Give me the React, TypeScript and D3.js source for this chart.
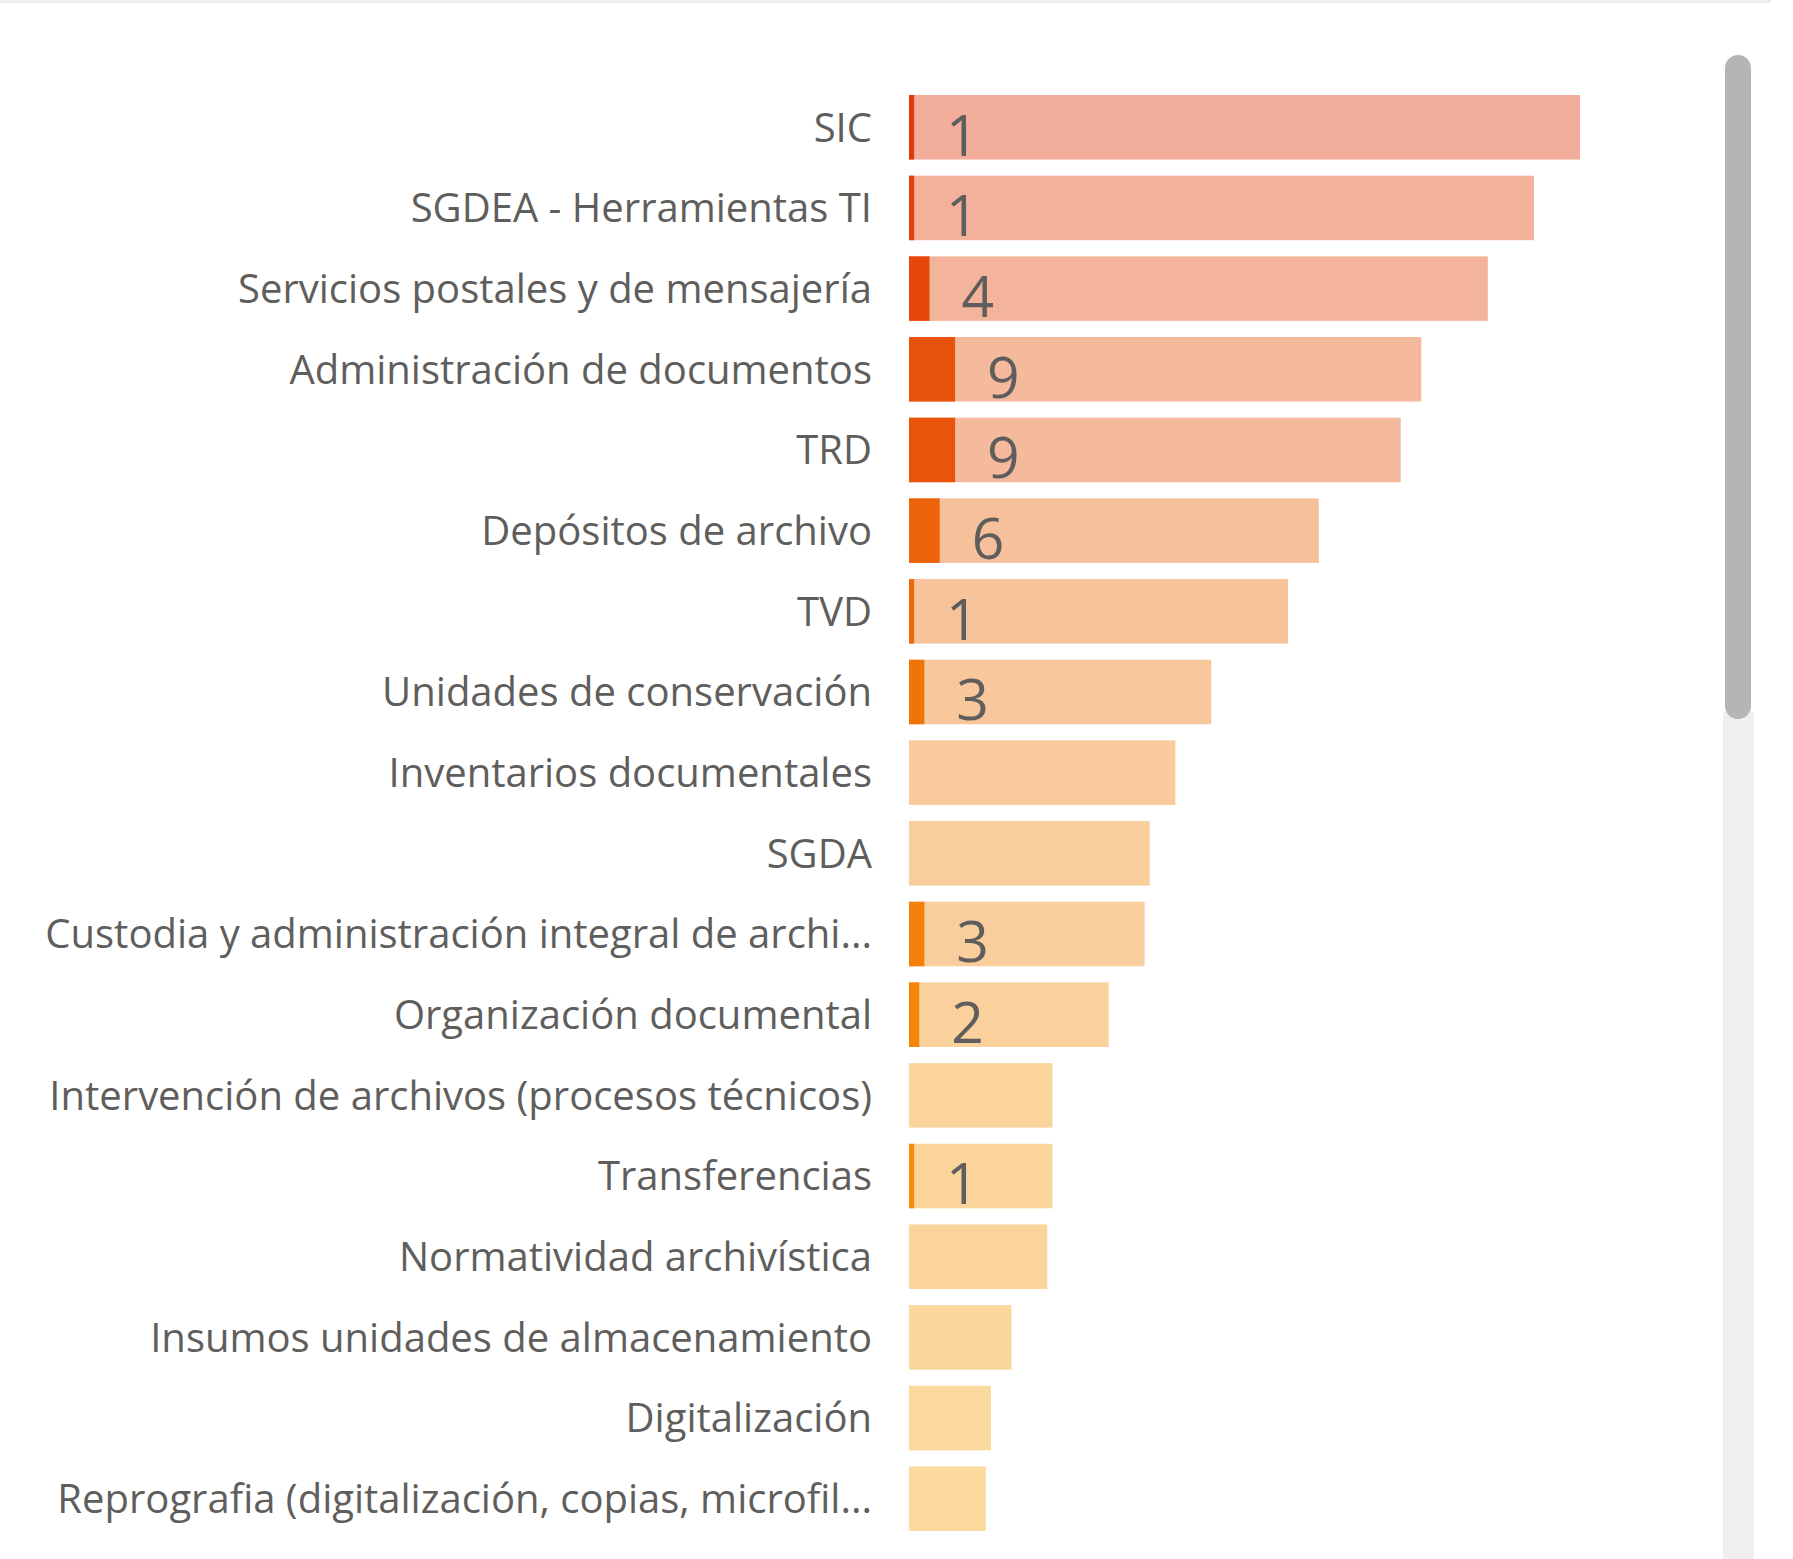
import React from "react";
import * as d3 from "d3";

const categories = [
  "SIC",
  "SGDEA - Herramientas TI",
  "Servicios postales y de mensajería",
  "Administración de documentos",
  "TRD",
  "Depósitos de archivo",
  "TVD",
  "Unidades de conservación",
  "Inventarios documentales",
  "SGDA",
  "Custodia y administración integral de archi...",
  "Organización documental",
  "Intervención de archivos (procesos técnicos)",
  "Transferencias",
  "Normatividad archivística",
  "Insumos unidades de almacenamiento",
  "Digitalización",
  "Reprografia (digitalización, copias, microfil...",
];

const totals = [131, 122, 113, 100, 96, 80, 74, 59, 52, 47, 46, 39, 28, 28, 27, 20, 16, 15];
const highlighted = [1, 1, 4, 9, 9, 6, 1, 3, 0, 0, 3, 2, 0, 1, 0, 0, 0, 0];

const W = 1793;
const H = 1559;
const FONT = "'Segoe UI', 'Open Sans', 'Noto Sans', sans-serif";

export default function App() {
  const x = d3.scaleLinear().domain([0, d3.max(totals) as number]).range([909, 1580]);
  const y = d3.scaleBand<string>().domain(categories).range([95, 1531]).paddingInner(0.2).paddingOuter(0);
  const bw = y.bandwidth();
  const ext = d3.extent(totals) as [number, number];
  const bgColor = d3.scaleLinear<string>().domain(ext).range(["#FCD99C", "#F2AD9B"]).interpolate(d3.interpolateRgb);
  const fgColor = d3.scaleLinear<string>().domain(ext).range(["#FA980A", "#E2390C"]).interpolate(d3.interpolateRgb);
  const labelSize = 40;
  const numSize = 57;

  return (
    <svg width={W} height={H} style={{ position: "absolute", left: 0, top: 0, background: "#fff" }}>
      <rect x={0} y={0} width={1771} height={3} fill="#EDEDED" />
      {categories.map((c, i) => {
        const yy = y(c) as number;
        const cy = yy + bw / 2;
        return (
          <g key={c}>
            <text
              x={872}
              y={cy + labelSize * 0.714 / 2}
              textAnchor="end"
              fontFamily={FONT}
              fontSize={labelSize}
              fill="#605E5C"
            >
              {c}
            </text>
            <rect x={x(0)} y={yy} width={x(totals[i]) - x(0)} height={bw} fill={bgColor(totals[i])} />
            {highlighted[i] > 0 && (
              <rect x={x(0)} y={yy} width={x(highlighted[i]) - x(0)} height={bw} fill={fgColor(totals[i])} />
            )}
            {highlighted[i] > 0 && (
              <text
                x={x(highlighted[i]) + 32}
                y={yy + bw - 4}
                fontFamily={FONT}
                fontSize={numSize}
                fill="#605E5C"
              >
                {highlighted[i]}
              </text>
            )}
          </g>
        );
      })}
      <rect x={1723} y={712} width={31} height={H - 712} fill="#EFEFEF" />
      <rect x={1725} y={55} width={26} height={664} rx={13} ry={13} fill="#B5B5B5" />
    </svg>
  );
}
